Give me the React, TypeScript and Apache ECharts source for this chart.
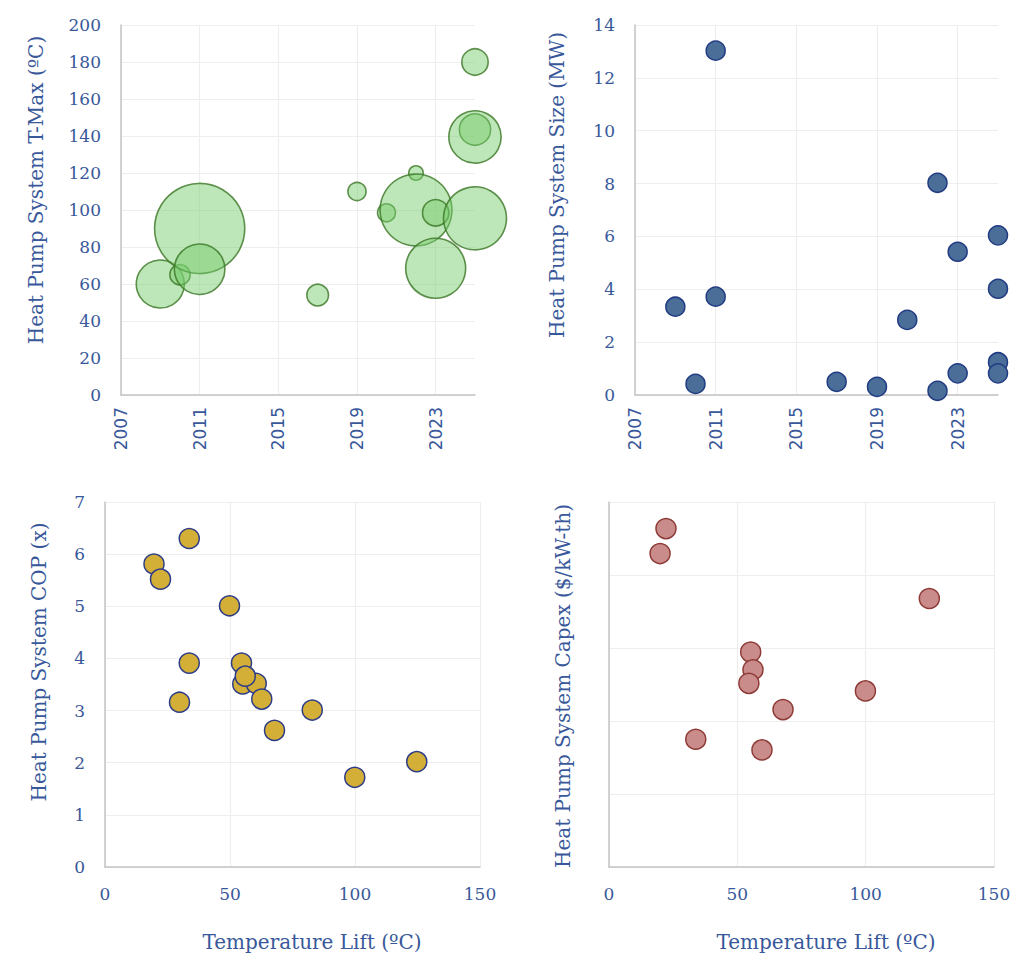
import React, { useEffect, useRef } from "react";
import * as echarts from "echarts";

// Project commissioning year (x) and maximum supply temperature (y), bubble = size (MW)
const tmaxYears = [2009, 2010, 2011, 2011, 2017, 2019, 2020.5, 2022, 2022, 2023, 2023, 2025, 2025, 2025, 2025];
const tmaxValues = [60, 65, 90, 68, 54, 110, 98.5, 120, 100, 98.5, 68.5, 180, 143.5, 139.5, 95.5];
const bubbleMW = [3.34, 0.42, 13.03, 3.72, 0.5, 0.31, 0.3, 0.16, 8.03, 0.82, 5.42, 0.82, 1.24, 4.02, 6.04];

// Project year vs installed size (MW)
const sizeYears = [2009, 2010, 2011, 2011, 2017, 2019, 2020.5, 2022, 2022, 2023, 2023, 2025, 2025, 2025, 2025];
const sizeMW = [3.34, 0.42, 13.03, 3.72, 0.5, 0.31, 2.84, 8.03, 0.16, 5.42, 0.82, 6.04, 4.02, 1.24, 0.82];

// Temperature lift (ºC) vs COP
const copLift = [33.7, 19.6, 22.2, 49.8, 33.7, 29.8, 54.6, 55.1, 60.5, 56.1, 62.7, 67.8, 82.9, 99.9, 124.7];
const copValues = [6.3, 5.81, 5.52, 5.01, 3.91, 3.16, 3.91, 3.51, 3.52, 3.66, 3.22, 2.62, 3.01, 1.72, 2.02];

// Temperature lift (ºC) vs capex ($/kW-th)
const capexLift = [22.2, 19.9, 124.8, 55.2, 56.1, 54.5, 99.9, 67.8, 33.8, 59.6];
const capexValues = [2318, 2147, 1839, 1472, 1351, 1258, 1206, 1078, 875, 802];

// Year axes start at this year; ticks every 4 years
const YEAR0 = 2007;
const YEAR_SPAN = 18;
const yearTicks = ["2007", "2011", "2015", "2019", "2023"];

const BLUE = "#38589A";
const SERIF = "'DejaVu Serif', 'Liberation Serif', serif";
const SANS = "'DejaVu Sans', 'Liberation Sans', sans-serif";
const AXIS_LINE = { show: true, lineStyle: { color: "#C4C4C4", width: 1.5 } };
const SPLIT = { show: true, lineStyle: { color: "#EEEEEE", width: 1.2 } };

function yearAxis(gridIndex: number) {
  return {
    type: "value",
    gridIndex,
    min: 0,
    max: YEAR_SPAN,
    interval: 4,
    axisLine: AXIS_LINE,
    axisTick: { show: false },
    splitLine: { ...SPLIT, showMaxLine: false },
    axisLabel: {
      rotate: 90,
      margin: 12,
      color: BLUE,
      fontFamily: SANS,
      fontSize: 17,
      showMaxLabel: false,
      formatter: (v: number) => yearTicks[Math.round(v / 4)] ?? "",
    },
  };
}

function valueAxis(gridIndex: number, max: number, interval: number, showLabels = true, x = false) {
  return {
    type: "value",
    gridIndex,
    min: 0,
    max,
    interval,
    axisLine: AXIS_LINE,
    axisTick: { show: false },
    splitLine: SPLIT,
    axisLabel: {
      show: showLabels,
      margin: x ? 18 : 20,
      color: BLUE,
      fontFamily: SERIF,
      fontSize: 17,
    },
  };
}

function vText(text: string, x: number, y: number) {
  return {
    type: "text",
    x,
    y,
    rotation: Math.PI / 2,
    style: {
      text,
      fill: BLUE,
      font: `20px ${SERIF}`,
      textAlign: "center",
      textVerticalAlign: "middle",
    },
  };
}

function hText(text: string, x: number, y: number) {
  return {
    type: "text",
    x,
    y,
    style: {
      text,
      fill: BLUE,
      font: `20px ${SERIF}`,
      textAlign: "center",
      textVerticalAlign: "middle",
    },
  };
}

export default function App() {
  const ref = useRef<HTMLDivElement>(null);

  useEffect(() => {
    if (!ref.current) return;
    const chart = echarts.init(ref.current, null, { renderer: "svg" });

    const bubbleData = tmaxYears.map((y, i) => [y - YEAR0, tmaxValues[i], bubbleMW[i]]);
    const sizeData = sizeYears.map((y, i) => [y - YEAR0, sizeMW[i]]);
    const copData = copLift.map((x, i) => [x, copValues[i]]);
    const capexData = capexLift.map((x, i) => [x, capexValues[i]]);

    chart.setOption({
      animation: false,
      backgroundColor: "#FFFFFF",
      grid: [
        { left: 121, top: 25, width: 354, height: 370 },
        { left: 635, top: 25, width: 363, height: 370 },
        { left: 105, top: 502, width: 375, height: 365 },
        { left: 609, top: 502, width: 385, height: 365 },
      ],
      xAxis: [
        yearAxis(0),
        yearAxis(1),
        valueAxis(2, 150, 50, true, true),
        valueAxis(3, 150, 50, true, true),
      ],
      yAxis: [
        valueAxis(0, 200, 20),
        valueAxis(1, 14, 2),
        valueAxis(2, 7, 1),
        valueAxis(3, 2500, 500, false),
      ],
      graphic: [
        vText("Heat Pump System T-Max (ºC)", 36, 190),
        vText("Heat Pump System Size (MW)", 557, 185),
        vText("Heat Pump System COP (x)", 39, 662),
        vText("Heat Pump System Capex ($/kW-th)", 563, 686),
        hText("Temperature Lift (ºC)", 312, 942),
        hText("Temperature Lift (ºC)", 826, 942),
      ],
      series: [
        {
          type: "scatter",
          xAxisIndex: 0,
          yAxisIndex: 0,
          data: bubbleData,
          symbolSize: (v: number[]) => 2 * (11.8 * Math.sqrt(v[2]) + 2.5),
          itemStyle: {
            color: "rgba(120, 205, 108, 0.6)",
            borderColor: "#3A7524",
            borderWidth: 1.6,
          },
        },
        {
          type: "scatter",
          xAxisIndex: 1,
          yAxisIndex: 1,
          data: sizeData,
          symbolSize: 19,
          itemStyle: { color: "#4A6E98", borderColor: "#223C84", borderWidth: 1.5, opacity: 1 },
        },
        {
          type: "scatter",
          xAxisIndex: 2,
          yAxisIndex: 2,
          data: copData,
          symbolSize: 20,
          itemStyle: { color: "#D4AF37", borderColor: "#2D3C86", borderWidth: 1.5, opacity: 1 },
        },
        {
          type: "scatter",
          xAxisIndex: 3,
          yAxisIndex: 3,
          data: capexData,
          symbolSize: 20,
          itemStyle: { color: "#C98C8A", borderColor: "#8E3B37", borderWidth: 1.5, opacity: 1 },
        },
      ],
    });

    return () => chart.dispose();
  }, []);

  return (
    <div
      ref={ref}
      style={{ position: "absolute", left: 0, top: 0, width: 1024, height: 963 }}
    />
  );
}
